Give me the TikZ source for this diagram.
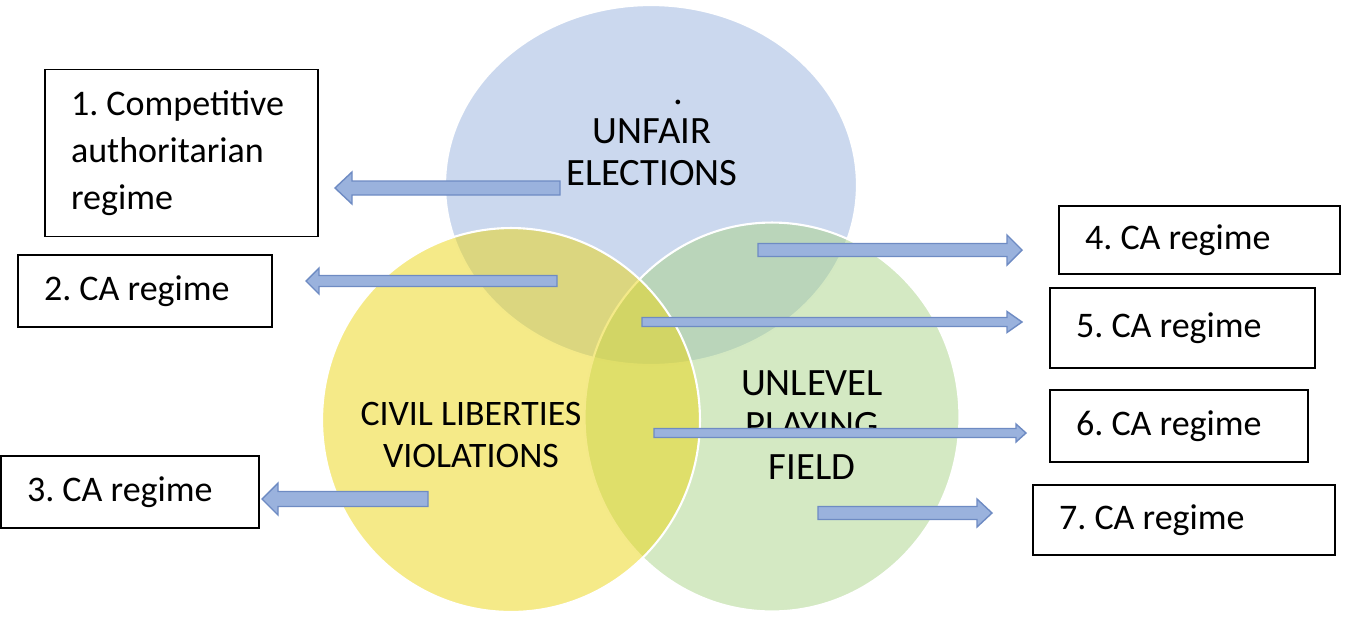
\documentclass[tikz,border=0pt]{standalone}
\usepackage{fontspec}
\setmainfont{Carlito}
\usetikzlibrary{calc}

\definecolor{ufblue}{HTML}{97B1DD}
\definecolor{clyellow}{HTML}{EBD512}
\definecolor{plgreen}{HTML}{A9D387}
\definecolor{arrfill}{HTML}{9AB2DD}
\definecolor{arredge}{HTML}{6E8BC3}

% block arrow: tail, tip, half shaft, half head, head length
\newcommand{\blockarrow}[5]{%
  \coordinate (hb) at ($(#2)!#5!(#1)$);
  \draw[barrow] ([yshift=#3]#1) -- ([yshift=#3]hb) -- ([yshift=#4]hb) -- (#2)
    -- ([yshift=-#4]hb) -- ([yshift=-#3]hb) -- ([yshift=-#3]#1) -- cycle;}

\begin{document}
\frenchspacing
\begin{tikzpicture}[x=0.02cm, y=-0.02cm,
  circ/.style={draw=white, line width=1.2pt, fill opacity=0.5},
  box/.style={rectangle, draw, line width=1pt, align=flush left, inner xsep=0.52cm, inner ysep=0pt, font=\fontsize{20.5}{26.6}\selectfont},
  lbl/.style={align=center, font=\fontsize{22}{24}\selectfont},
  barrow/.style={fill=arrfill, draw=arredge, line width=0.8pt},
]
\useasboundingbox (0,0) rectangle (1346,616);

% === VENN CIRCLES ===
\draw[circ, fill=ufblue] (651,185) ellipse [x radius=4.12cm, y radius=3.6cm];
\draw[circ, fill=plgreen] (772,417) ellipse [x radius=3.75cm, y radius=3.89cm];
\draw[circ, fill=clyellow] (511,420) ellipse [x radius=3.78cm, y radius=3.84cm];

\node[lbl] (dot) at (678,102) {.};
\node[lbl] (unfair) at (652,152) {UNFAIR\\ELECTIONS};
\node[lbl, font=\fontsize{20.4}{24}\selectfont] (civil) at (471,435) {CIVIL LIBERTIES\\VIOLATIONS};
\node[lbl] (unlevel) at (812,425) {UNLEVEL\\PLAYING\\FIELD};

% === REGIME BOXES ===
\node[box, minimum width=5.46cm, minimum height=3.34cm, text width=4.42cm] (r1) at (181.5,153) {1. Competitive\\authoritarian\\regime};
\node[box, minimum width=5.08cm, minimum height=1.44cm, text width=4.04cm] (r2) at (145,291) {2. CA regime};
\node[box, minimum width=5.16cm, minimum height=1.44cm, text width=4.12cm] (r3) at (130,492) {3. CA regime};
\node[box, minimum width=5.62cm, minimum height=1.36cm, text width=4.58cm] (r4) at (1199.5,240) {4. CA regime};
\node[box, minimum width=5.3cm, minimum height=1.6cm, text width=4.26cm] (r5) at (1182.5,328) {5. CA regime};
\node[box, minimum width=5.16cm, minimum height=1.44cm, text width=4.12cm] (r6) at (1179,426) {6. CA regime};
\node[box, minimum width=6.04cm, minimum height=1.4cm, text width=5.0cm] (r7) at (1184,520) {7. CA regime};

% === ARROWS ===
\coordinate (a1s) at (560,188); \coordinate (a1t) at (335,188);
\coordinate (a2s) at (557,281); \coordinate (a2t) at (306,281);
\coordinate (a3s) at (428,499); \coordinate (a3t) at (262,499);
\coordinate (a4s) at (758,250); \coordinate (a4t) at (1022,250);
\coordinate (a5s) at (642,322); \coordinate (a5t) at (1022,322);
\coordinate (a6s) at (654,433); \coordinate (a6t) at (1026,433);
\coordinate (a7s) at (818,513); \coordinate (a7t) at (992,513);

\blockarrow{a1s}{a1t}{0.14cm}{0.32cm}{0.34cm}
\blockarrow{a2s}{a2t}{0.11cm}{0.26cm}{0.26cm}
\blockarrow{a3s}{a3t}{0.15cm}{0.32cm}{0.32cm}
\blockarrow{a4s}{a4t}{0.13cm}{0.30cm}{0.30cm}
\blockarrow{a5s}{a5t}{0.09cm}{0.21cm}{0.30cm}
\blockarrow{a6s}{a6t}{0.09cm}{0.18cm}{0.20cm}
\blockarrow{a7s}{a7t}{0.13cm}{0.28cm}{0.30cm}
\end{tikzpicture}
\end{document}
